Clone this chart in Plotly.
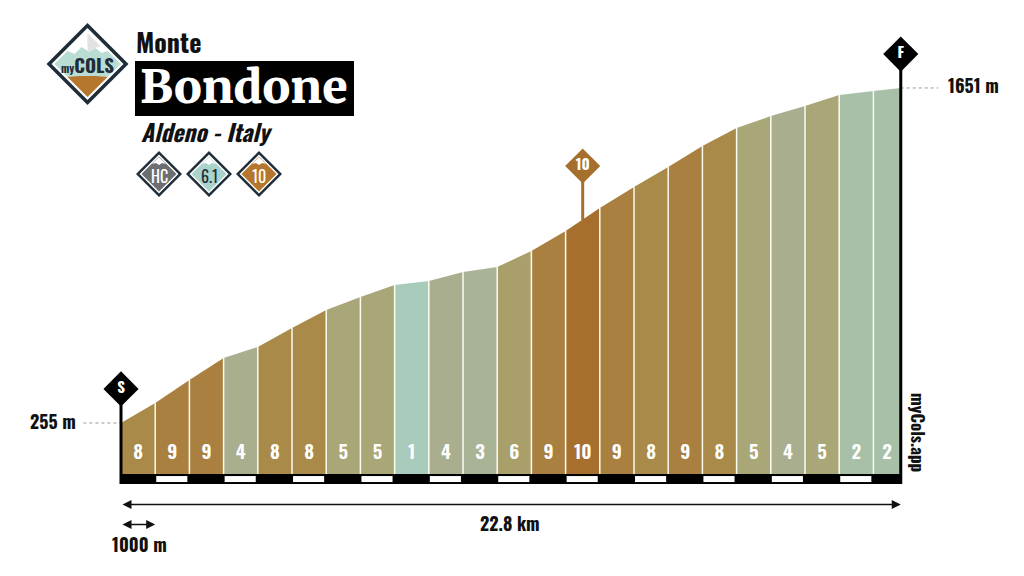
import plotly.graph_objects as go

# climb profile, one value per km mark (last one is the summit at 22.8 km)
km_marks = [0, 1, 2, 3, 4, 5, 6, 7, 8, 9, 10, 11, 12, 13, 14, 15, 16, 17, 18, 19, 20, 21, 22, 22.8]
elevation = [255, 338, 434, 526, 572, 651, 726, 780, 830, 847, 884, 905, 972, 1055, 1151,
             1238, 1322, 1409, 1484, 1534, 1576, 1622, 1638, 1651]
gradient = [8, 9, 9, 4, 8, 8, 5, 5, 1, 4, 3, 6, 9, 10, 9, 8, 9, 8, 5, 4, 5, 2, 2]

grad_colors = {1: '#a9cbbb', 2: '#a8bfa8', 3: '#a9b497', 4: '#a9ae8e', 5: '#a9a678',
               6: '#a99f6a', 8: '#a98a48', 9: '#a98040', 10: '#a66f2d'}

base_elev = 42.5
label_elev = 123
ruler_top = 42.5
ruler_bottom = 0.8
arrow_elev = -85
scale_elev = -168

# S / F / steepest km flags
flag_x = [0, 22.8]
flag_y = [397, 1792]
flag_text = ['S', 'F']
steep_x = 13.5
steep_y = 1326

CONDENSED = 'Oswald'
SLAB = 'Merriweather, Liberation Serif'
INK = '#111111'
DARK = '#1f2d38'


def px(x):
    return x / 1024


def py(y):
    return 1 - y / 576


def poly(points, fill, line=None, width=0):
    path = 'M ' + ' L '.join(f'{px(x):.5f},{py(y):.5f}' for x, y in points) + ' Z'
    return dict(type='path', xref='paper', yref='paper', path=path, fillcolor=fill,
                line=dict(color=line or fill, width=width), layer='above')


def diamond(cx, cy, r, fill):
    return poly([(cx, cy - r), (cx + r, cy), (cx, cy + r), (cx - r, cy)], fill)


def label(x, y, text, size, color=INK, family=CONDENSED, xanchor='center', weight=None, **kw):
    return dict(xref='paper', yref='paper', x=px(x), y=py(y), text=text, showarrow=False,
                xanchor=xanchor, yanchor='middle',
                font=dict(family=family, size=size, color=color, weight=weight), **kw)


fig = go.Figure()

# one filled panel per km
for i, g in enumerate(gradient):
    x0, x1 = km_marks[i], km_marks[i + 1]
    fig.add_trace(go.Scatter(
        x=[x0, x0, x1, x1], y=[base_elev, elevation[i], elevation[i + 1], base_elev],
        mode='lines', fill='toself', fillcolor=grad_colors[g],
        line=dict(width=0), hoverinfo='skip',
    ))

# white separators between panels
sep_x, sep_y = [], []
for k, e in zip(km_marks[1:-1], elevation[1:-1]):
    sep_x += [k, k, None]
    sep_y += [base_elev, e, None]
fig.add_trace(go.Scatter(x=sep_x, y=sep_y, mode='lines',
                         line=dict(color='#fbfbf2', width=1.5), hoverinfo='skip'))

# gradient numbers
mids = [(a + b) / 2 for a, b in zip(km_marks[:-1], km_marks[1:])]
fig.add_trace(go.Scatter(
    x=mids, y=[label_elev] * len(mids), mode='text', text=[str(g) for g in gradient],
    textfont=dict(family=CONDENSED, size=19, color='white', weight=600), hoverinfo='skip',
))

# dotted leaders to the start and summit heights
fig.add_trace(go.Scatter(x=[-1.1, 0, None, 22.8, 23.9],
                         y=[elevation[0], elevation[0], None, elevation[-1], elevation[-1]],
                         mode='lines', line=dict(color='#999999', width=1, dash='dot'),
                         hoverinfo='skip'))

# posts and flags
fig.add_trace(go.Scatter(x=[0, 0, None, 22.8, 22.8], y=[ruler_bottom, flag_y[0], None, ruler_bottom, flag_y[1]],
                         mode='lines', line=dict(color='black', width=3), hoverinfo='skip'))
fig.add_trace(go.Scatter(x=[steep_x, steep_x], y=[elevation[13] + 45, steep_y], mode='lines',
                         line=dict(color=grad_colors[10], width=3), hoverinfo='skip'))
fig.add_trace(go.Scatter(
    x=flag_x, y=flag_y, mode='markers+text', text=flag_text, textposition='middle center',
    marker=dict(symbol='diamond', size=27, color='black'),
    textfont=dict(family=CONDENSED, size=15, color='white', weight=700), hoverinfo='skip',
))
fig.add_trace(go.Scatter(
    x=[steep_x], y=[steep_y], mode='markers+text', text=['10'], textposition='middle center',
    marker=dict(symbol='diamond', size=27, color=grad_colors[10]),
    textfont=dict(family=CONDENSED, size=15, color='white', weight=700), hoverinfo='skip',
))

shapes = []
# ruler: black band with white windows on every second km
shapes.append(dict(type='rect', xref='x', yref='y', x0=-0.03, x1=22.83, y0=ruler_bottom, y1=ruler_top,
                   fillcolor='black', line=dict(width=0), layer='above'))
for k in range(1, 23, 2):
    shapes.append(dict(type='rect', xref='x', yref='y', x0=k + 0.03, x1=k + 0.94, y0=9, y1=34,
                       fillcolor='white', line=dict(width=0), layer='above'))

# logo
lx, ly = 87.5, 64
shapes += [
    diamond(lx, ly, 41, DARK),
    diamond(lx, ly, 36, 'white'),
    # mint band with a jagged snow line
    poly([(lx - 33, ly), (lx - 20, ly - 13), (lx - 13, ly - 10), (lx - 6, ly - 17), (lx + 2, ly - 12),
          (lx + 8, ly - 16), (lx + 14, ly - 11), (lx + 20, ly - 13), (lx + 33, ly), (lx + 20, ly + 13),
          (lx, ly + 13), (lx - 20, ly + 13)], '#b9dcd5'),
    poly([(lx, ly - 31), (lx + 13, ly - 18), (lx + 8, ly - 16), (lx + 2, ly - 12), (lx, ly - 14)], '#e2e2e0'),
    poly([(lx - 20, ly + 13), (lx - 8, ly + 12), (lx + 8, ly + 12), (lx + 20, ly + 13), (lx, ly + 33)], '#b5772d'),
]

# category badges
badges = [(159, '#6d6e71', 'HC', 'white'), (209, '#a9d3cb', '6.1', DARK), (259, '#b5772d', '10', 'white')]
for bx, col, _, _ in badges:
    shapes += [
        diamond(bx, 174, 23, DARK),
        diamond(bx, 174, 19.5, 'white'),
        diamond(bx, 174, 17.5, col),
        poly([(bx, 157), (bx + 7, 164), (bx + 3, 163), (bx, 165), (bx - 3, 163), (bx - 7, 164)], 'white'),
    ]

# title box
shapes.append(dict(type='rect', xref='paper', yref='paper', x0=px(135), x1=px(354), y0=py(116), y1=py(61),
                   fillcolor='black', line=dict(width=0), layer='above'))

annotations = [
    label(134, 42, '<b>Monte</b>', 26, xanchor='left'),
    label(243.5, 87, 'Bondone', 46, color='white', family=SLAB, weight=900),
    label(139, 132, '<b><i>Aldeno - Italy</i></b>', 23.5, xanchor='left'),
    label(lx, 64, '<span style="font-size:11px"><b>my</b></span><b>COLS</b>', 19, color=DARK),
    label(53, 421, '<b>255 m</b>', 18),
    label(973, 85, '<b>1651 m</b>', 18),
    label(510, 523, '<b>22.8 km</b>', 18),
    label(139, 544, '<b>1000 m</b>', 18),
    label(919, 432, '<b>myCols.app</b>', 17, textangle=90),
]
for bx, _, txt, col in badges:
    annotations.append(label(bx, 176, txt, 16, color=col))

# distance arrows, drawn in data coordinates
for x0, x1, y in [(0, 22.8, arrow_elev), (0, 1, scale_elev)]:
    annotations.append(dict(x=x1, y=y, ax=x0, ay=y, xref='x', yref='y', axref='x', ayref='y', text='',
                            showarrow=True, arrowhead=2, arrowside='end+start', arrowsize=1.2,
                            arrowwidth=1.5, arrowcolor=INK, standoff=0, startstandoff=0))

# axes pinned so that 1 km = 34.2 px and 1 m = 0.24 px over the whole page
fig.update_layout(
    width=1024, height=576,
    margin=dict(l=0, r=0, t=0, b=0),
    paper_bgcolor='white', plot_bgcolor='white',
    showlegend=False,
    shapes=shapes, annotations=annotations,
    xaxis=dict(range=[-121 / 34.2, 903 / 34.2], visible=False, fixedrange=True),
    yaxis=dict(range=[255 - 153 / 0.24, 255 + 423 / 0.24], visible=False, fixedrange=True),
)

fig.write_html('out.html', config=dict(displayModeBar=False),
               post_script="document.body.style.margin='0';")
